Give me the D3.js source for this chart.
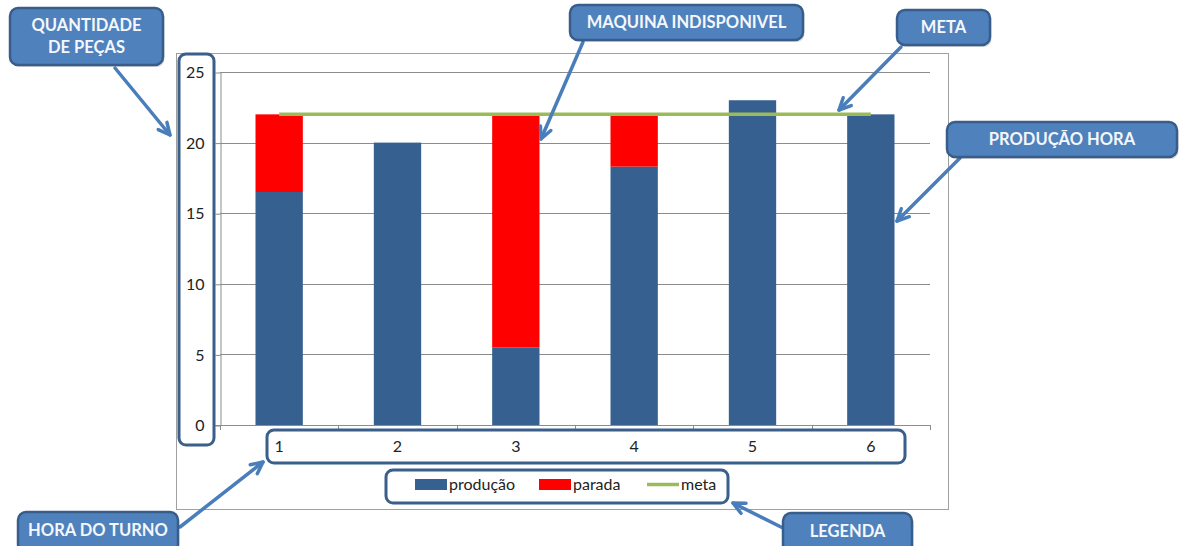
<!DOCTYPE html>
<html>
<head>
<meta charset="utf-8">
<script src="https://cdn.jsdelivr.net/npm/d3@7"></script>
<style>
  html, body { margin: 0; padding: 0; background: #ffffff; }
  svg { display: block; }
  text { font-family: Lato, "Liberation Sans", sans-serif; }
</style>
</head>
<body>
<script>
// ---- data ----
const hours = ["1", "2", "3", "4", "5", "6"];
const producao = [16.5, 20, 5.5, 18.3, 23, 22];
const parada = [5.5, 0, 16.5, 3.7, 0, 0];
const meta = [22, 22, 22, 22, 22, 22];
const yTicks = [0, 5, 10, 15, 20, 25];
const seriesNames = ["produção", "parada", "meta"];
const calloutTexts = [["QUANTIDADE", "DE PEÇAS"], ["MAQUINA INDISPONIVEL"], ["META"], ["PRODUÇÃO HORA"], ["HORA DO TURNO"], ["LEGENDA"]];

// ---- layout ----
const W = 1179, H = 546;
const plot = { left: 220, right: 930, top: 72, bottom: 425 };
const colors = { prod: "#36608F", stop: "#FF0000", meta: "#9BBB59", grid: "#8C8C8C", frame: "#A0A0A0", hl: "#3A5F8B", callFill: "#4F81BD", callStroke: "#385D8A", arrow: "#4A7EBB" };
const tickFont = 16;
const callFont = 16.5;

const svg = d3.select("body").append("svg").attr("width", W).attr("height", H);

const x = d3.scaleBand().domain(hours).range([plot.left, plot.right]).paddingInner(0.6).paddingOuter(0.3);
const y = d3.scaleLinear().domain([0, 25]).range([plot.bottom, plot.top]);
const step = x.step();

// outer chart frame
svg.append("rect").attr("x", 176.5).attr("y", 53.5).attr("width", 772).attr("height", 456)
  .attr("fill", "#fff").attr("stroke", colors.frame).attr("stroke-width", 1);

// gridlines
svg.append("g").selectAll("line").data(yTicks.filter(t => t > 0)).join("line")
  .attr("x1", plot.left).attr("x2", plot.right)
  .attr("y1", d => Math.round(y(d)) + 0.5).attr("y2", d => Math.round(y(d)) + 0.5)
  .attr("stroke", colors.grid).attr("stroke-width", 1);

// y axis
const yAxis = svg.append("g").attr("transform", `translate(${plot.left + 0.5},0.5)`)
  .call(d3.axisLeft(y).tickValues(yTicks).tickSize(5).tickPadding(11).tickSizeOuter(0));
yAxis.select(".domain").attr("stroke", colors.grid);
yAxis.selectAll(".tick line").attr("stroke", colors.grid);
yAxis.selectAll(".tick text").attr("font-size", tickFont).attr("fill", "#222").attr("font-family", "Lato, sans-serif");

// x axis (labels)
const xAxis = svg.append("g").attr("transform", `translate(0,${plot.bottom + 0.5})`)
  .call(d3.axisBottom(x).tickSize(0).tickPadding(15));
xAxis.select(".domain").attr("stroke", colors.grid).attr("d", `M${plot.left - 5},0H${plot.right}`);
xAxis.selectAll(".tick text").attr("font-size", tickFont).attr("fill", "#222").attr("font-family", "Lato, sans-serif");
// boundary ticks
svg.append("g").selectAll("line").data(d3.range(hours.length + 1)).join("line")
  .attr("x1", i => Math.round(plot.left + i * step) + 0.5).attr("x2", i => Math.round(plot.left + i * step) + 0.5)
  .attr("y1", plot.bottom).attr("y2", plot.bottom + 5)
  .attr("stroke", colors.grid);

// stacked bars
const stackData = hours.map((h, i) => ({ h, producao: producao[i], parada: parada[i] }));
const stacked = d3.stack().keys(["producao", "parada"])(stackData);
const barColors = [colors.prod, colors.stop];
svg.append("g").selectAll("g").data(stacked).join("g")
  .attr("fill", (d, i) => barColors[i])
  .selectAll("rect").data(d => d).join("rect")
  .attr("x", d => x(d.data.h)).attr("width", x.bandwidth())
  .attr("y", d => y(d[1])).attr("height", d => y(d[0]) - y(d[1]));

// meta line
const line = d3.line().x((d, i) => x(hours[i]) + x.bandwidth() / 2).y(d => y(d));
svg.append("path").attr("d", line(meta)).attr("fill", "none")
  .attr("stroke", colors.meta).attr("stroke-width", 3.5);

// legend
const lg = svg.append("g");
const legendItems = [
  { name: seriesNames[0], type: "rect", color: colors.prod, x: 415 },
  { name: seriesNames[1], type: "rect", color: colors.stop, x: 539 },
  { name: seriesNames[2], type: "line", color: colors.meta, x: 647 }
];
legendItems.forEach(it => {
  if (it.type === "rect") {
    lg.append("rect").attr("x", it.x).attr("y", 479).attr("width", 32).attr("height", 11).attr("fill", it.color);
  } else {
    lg.append("line").attr("x1", it.x).attr("x2", it.x + 32).attr("y1", 484.5).attr("y2", 484.5)
      .attr("stroke", it.color).attr("stroke-width", 3.5);
  }
  lg.append("text").attr("x", it.x + 34).attr("y", 490).attr("font-size", tickFont).attr("fill", "#222").text(it.name);
});

// highlight boxes (y axis, x axis, legend)
const hl = svg.append("g").attr("fill", "none").attr("stroke", colors.hl).attr("stroke-width", 3);
hl.append("rect").attr("x", 179).attr("y", 54).attr("width", 35).attr("height", 391).attr("rx", 7);
hl.append("rect").attr("x", 267).attr("y", 430).attr("width", 638).attr("height", 33).attr("rx", 7);
hl.append("rect").attr("x", 386).attr("y", 470).attr("width", 342).attr("height", 33).attr("rx", 7);

// arrows
const arrows = [
  [115, 68, 170, 135],
  [583, 42, 541, 139],
  [901, 47, 839, 110],
  [960, 158, 897, 221],
  [180, 527, 263, 462],
  [783, 528, 733, 503]
];
const ag = svg.append("g").attr("stroke", colors.arrow).attr("stroke-width", 3.5).attr("fill", "none").attr("stroke-linecap", "round").attr("stroke-linejoin", "round");
arrows.forEach(([x1, y1, x2, y2]) => {
  ag.append("line").attr("x1", x1).attr("y1", y1).attr("x2", x2).attr("y2", y2);
  const ang = Math.atan2(y2 - y1, x2 - x1);
  const L = 13, spread = 0.45;
  const p1 = [x2 - L * Math.cos(ang - spread), y2 - L * Math.sin(ang - spread)];
  const p2 = [x2 - L * Math.cos(ang + spread), y2 - L * Math.sin(ang + spread)];
  ag.append("path").attr("d", `M${p1[0]},${p1[1]}L${x2},${y2}L${p2[0]},${p2[1]}`);
});

// callouts
const callBoxes = [
  { x: 10, y: 8, w: 153, h: 57 },
  { x: 570, y: 5, w: 233, h: 35 },
  { x: 897, y: 10, w: 93, h: 35 },
  { x: 947, y: 122, w: 230, h: 35 },
  { x: 18, y: 512, w: 160, h: 40 },
  { x: 783, y: 513, w: 129, h: 40 }
];
const cg = svg.append("g");
callBoxes.forEach((b, i) => {
  cg.append("rect").attr("x", b.x + 1.5).attr("y", b.y + 2).attr("width", b.w).attr("height", b.h).attr("rx", 8)
    .attr("fill", "#000").attr("opacity", 0.15);
  cg.append("rect").attr("x", b.x).attr("y", b.y).attr("width", b.w).attr("height", b.h).attr("rx", 8)
    .attr("fill", colors.callFill).attr("stroke", colors.callStroke).attr("stroke-width", 2.5);
  const lines = calloutTexts[i];
  const lh = 22;
  const cy = (i === 4 || i === 5) ? b.y + 18 : b.y + b.h / 2;
  lines.forEach((t, k) => {
    cg.append("text").attr("x", b.x + b.w / 2).attr("y", cy + (k - (lines.length - 1) / 2) * lh)
      .attr("dy", "0.35em").attr("text-anchor", "middle").attr("font-size", callFont).attr("font-weight", "bold")
      .attr("fill", "#F4F7FB").text(t);
  });
});
</script>
</body>
</html>
